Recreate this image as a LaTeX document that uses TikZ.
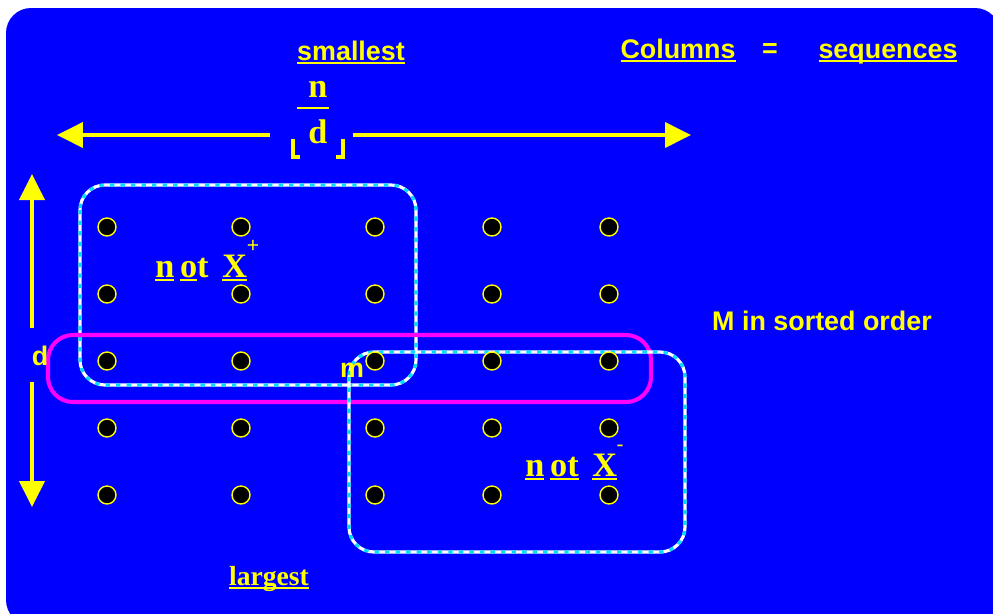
\documentclass[tikz,border=0pt]{standalone}
\usepackage{fontspec}
\setmainfont{Liberation Serif}
\setsansfont{Liberation Sans}
\usetikzlibrary{arrows.meta}
\definecolor{slideblue}{RGB}{0,0,255}
\definecolor{slideyellow}{RGB}{255,255,0}
\definecolor{boxcyan}{RGB}{0,220,255}
\definecolor{rowpink}{RGB}{255,0,255}
\newcommand{\ulin}[1]{\setbox0\hbox{#1}\rlap{\rule[-2.4pt]{\wd0}{1pt}}\box0}

\begin{document}
\begin{tikzpicture}[x=0.02cm,y=-0.02cm,
  lbl/.style={text=slideyellow,font=\sffamily\bfseries\fontsize{15.3}{18}\selectfont,inner sep=0pt},
  big/.style={text=slideyellow,font=\bfseries\fontsize{19.5}{22}\selectfont,inner sep=0pt},
  sup/.style={text=slideyellow,font=\sffamily\fontsize{12}{14}\selectfont,inner sep=0pt},
  dot/.style={circle,draw=slideyellow,fill=black,line width=0.8pt,minimum size=0.36cm,inner sep=0pt},
  arr/.style={slideyellow,line width=2.2pt,-{Triangle[length=0.52cm,width=0.5cm]}},
  seqbox/.style={rounded corners=0.5cm,line width=1.8pt}]
\useasboundingbox (0,0) rectangle (993,613);
\fill[white] (0,0) rectangle (993,613);
\fill[slideblue,rounded corners=0.5cm] (6,8) rectangle (1000,625);

% boxes
\draw[white,seqbox] (80,185) rectangle (416,385);
\draw[boxcyan,seqbox,dash pattern=on 2.5pt off 3.5pt] (80,185) rectangle (416,385);
\draw[rowpink,line width=2.3pt,rounded corners=0.5cm] (48,335) rectangle (651,402);
\draw[white,seqbox] (349,352) rectangle (685,552);
\draw[boxcyan,seqbox,dash pattern=on 2.5pt off 3.5pt] (349,352) rectangle (685,552);

% grid of elements
\foreach \r/\yy in {1/227,2/294,3/361,4/428,5/495}
  \foreach \c/\xx in {1/107,2/241,3/375,4/492,5/609}
    \node[dot] (p\r\c) at (\xx,\yy) {};

% n/d
\node[big] (n) at (318,89) {n};
\node[big] (d) at (318,132) {d};
\draw[slideyellow,line width=1.4pt] (297,108) -- (329,108);
\draw[slideyellow,line width=1.8pt] (293,139) -- (293,157) -- (300,157);
\draw[slideyellow,line width=1.8pt] (343,139) -- (343,157) -- (336,157);

% arrows
\coordinate (hl) at (57,135);
\coordinate (hr) at (691,135);
\coordinate (fl) at (270,135);
\coordinate (fr) at (353,135);
\draw[arr] (fl) -- (hl);
\draw[arr] (fr) -- (hr);
\coordinate (vt) at (32,174);
\coordinate (vb) at (32,507);
\coordinate (v1) at (32,328);
\coordinate (v2) at (32,382);
\draw[arr] (v1) -- (vt);
\draw[arr] (v2) -- (vb);

% labels
\node[lbl,anchor=base] (smallest) at (351,60) {\ulin{smallest}};
\node[lbl,anchor=base] (cols) at (678,58) {\ulin{Columns}};
\node[lbl,anchor=base] (eq) at (770,57) {=};
\node[lbl,anchor=base] (seqs) at (888,58) {\ulin{sequences}};
\node[lbl,anchor=base] (sorted) at (822,330) {M in sorted order};
\node[lbl] (dlab) at (40,356) {d};
\node[lbl] (mlab) at (352,370) {m};
\node[big,anchor=base,font=\bfseries\fontsize{15.7}{18}\selectfont] (largest) at (269,585) {\ulin{largest}};

\node[big,anchor=base west] (notxp) at (155,277) {\ulin{n}\,\ulin{o}t\hspace{0.4em}\ulin{X}};
\node[sup] (plus) at (253,246) {+};
\node[big,anchor=base west] (notxm) at (525,476) {\ulin{n}\,\ulin{ot}\hspace{0.4em}\ulin{X}};
\node[sup] (minus) at (620,448) {-};
\end{tikzpicture}
\end{document}
